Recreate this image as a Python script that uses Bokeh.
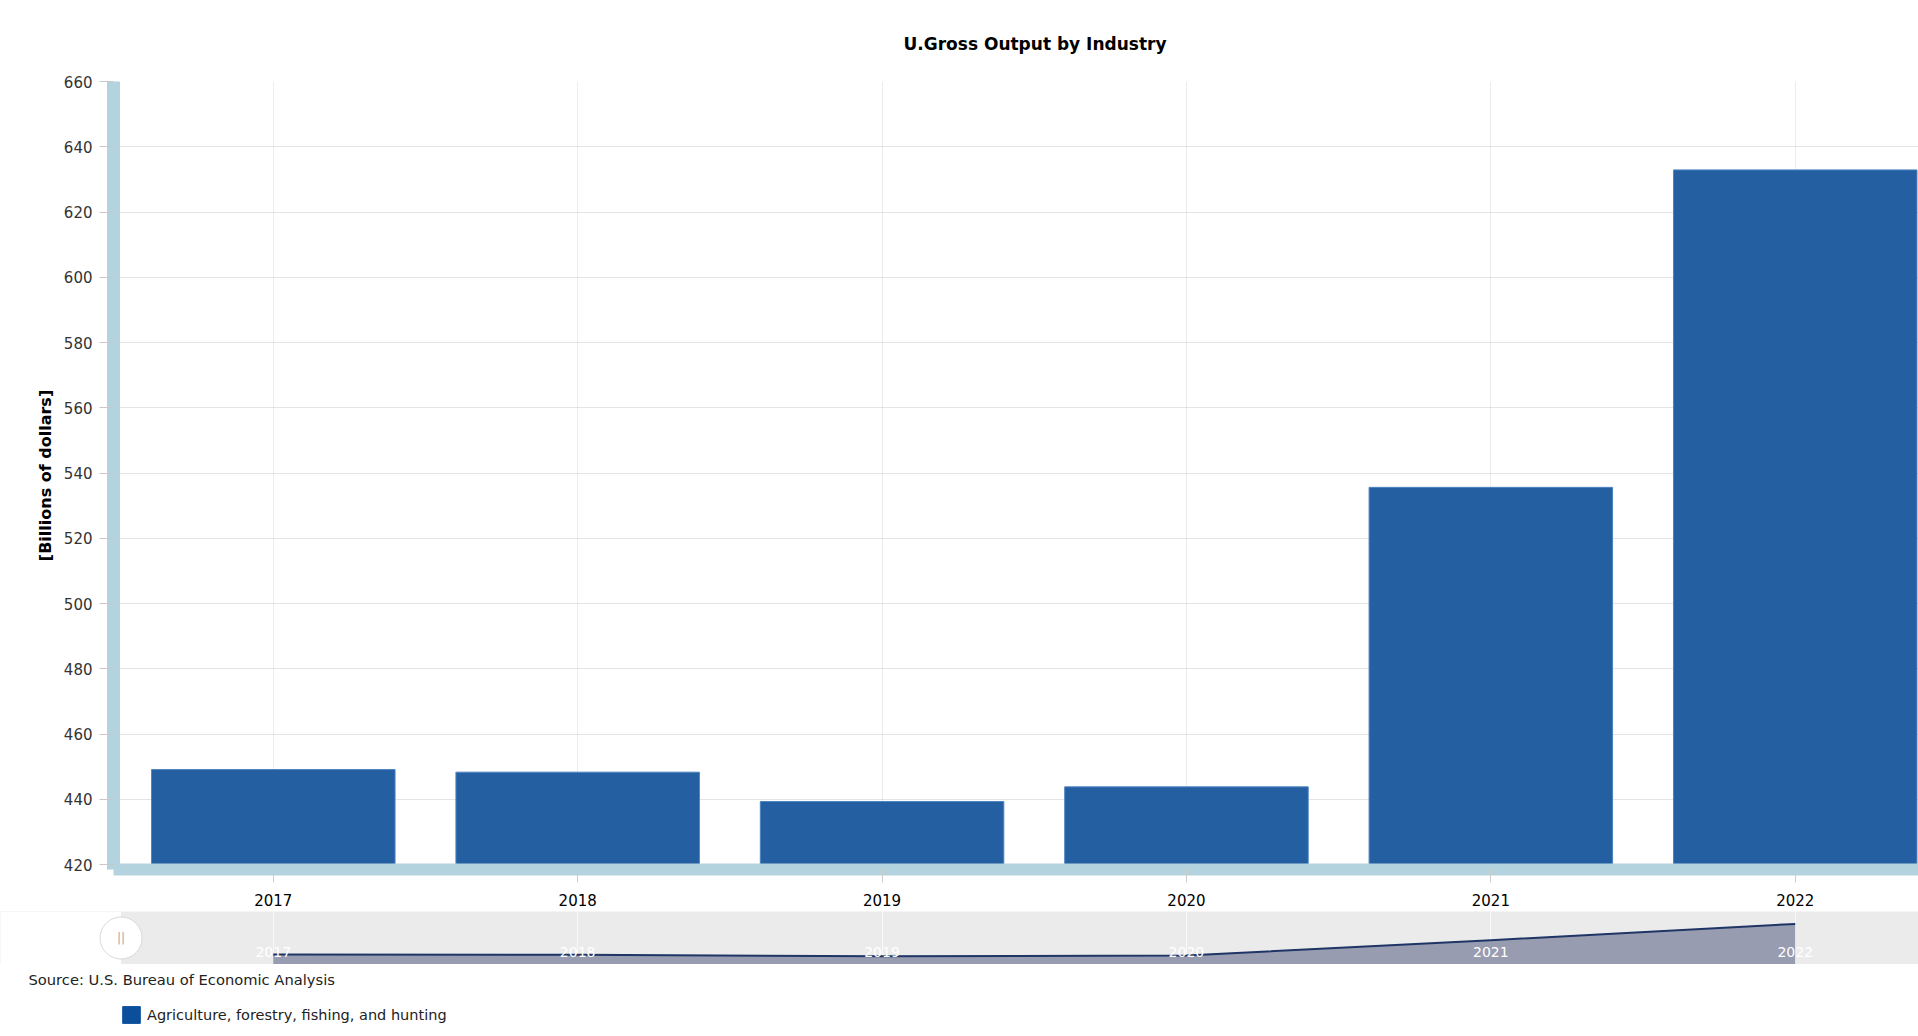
from bokeh.plotting import figure
from bokeh.models import Range1d, FixedTicker, Legend, LegendItem, BoxAnnotation
from bokeh.layouts import column
from bokeh.embed import file_html
from bokeh.resources import INLINE
from bokeh.core.properties import value

# ---------------- data ----------------
years = ["2017", "2018", "2019", "2020", "2021", "2022"]
gross_output = [449.1, 448.3, 439.3, 443.8, 535.6, 632.9]
y_ticks = [420, 440, 460, 480, 500, 520, 540, 560, 580, 600, 620, 640, 660]
series_name = "Agriculture, forestry, fishing, and hunting"
chart_title = "U.Gross Output by Industry"
y_title = "[Billions of dollars]"
source_note = "Source: U.S. Bureau of Economic Analysis"

idx = list(range(len(years)))
FONT = "DejaVu Sans"
BAR = "#235fa1"
AXIS_BAR = "#b3d3df"
W = 1918

# ---------------- main chart ----------------
p = figure(width=W, height=911,
           x_range=Range1d(-0.525, 5.405), y_range=Range1d(418.47, 660),
           output_backend="svg", toolbar_location=None,
           min_border_left=113, min_border_right=0,
           min_border_top=81, min_border_bottom=42)
p.frame_align = False
p.outline_line_color = None
p.background_fill_color = "white"
p.border_fill_color = "white"

p.title.text = chart_title
p.title.align = "left"
p.title.offset = 790
p.title.standoff = 56
p.title.text_font = FONT
p.title.text_font_size = "17px"
p.title.text_font_style = "bold"
p.title.text_color = "#000000"

p.vbar(x=idx, top=gross_output, bottom=y_ticks[0], width=0.8,
       fill_color=BAR, line_color="#4d84c2", line_width=1)

# y axis
p.yaxis.ticker = FixedTicker(ticks=y_ticks)
p.yaxis.axis_line_color = AXIS_BAR
p.yaxis.axis_line_width = 13
p.yaxis.major_tick_in = 0
p.yaxis.major_tick_out = 14
p.yaxis.major_tick_line_color = "#c8c8c8"
p.yaxis.minor_tick_line_color = None
p.yaxis.major_label_standoff = 7
p.yaxis.major_label_text_font = FONT
p.yaxis.major_label_text_font_size = "15px"
p.yaxis.major_label_text_color = "#333333"
p.yaxis.axis_label = y_title
p.yaxis.axis_label_text_font = FONT
p.yaxis.axis_label_text_font_size = "16px"
p.yaxis.axis_label_text_font_style = "bold"
p.yaxis.axis_label_text_color = "#000000"
p.yaxis.axis_label_standoff = 6

# x axis
p.xaxis.ticker = FixedTicker(ticks=idx)
p.xaxis.major_label_overrides = {i: y for i, y in zip(idx, years)}
p.xaxis.axis_line_color = AXIS_BAR
p.xaxis.axis_line_width = 12
p.xaxis.major_tick_in = 0
p.xaxis.major_tick_out = 13
p.xaxis.major_tick_line_color = "#cccccc"
p.xaxis.minor_tick_line_color = None
p.xaxis.major_label_standoff = 11
p.xaxis.major_label_text_font = FONT
p.xaxis.major_label_text_font_size = "15px"
p.xaxis.major_label_text_color = "#000000"

# grids
p.ygrid.grid_line_color = "#c8c8c8"
p.ygrid.grid_line_dash = "1 1"
p.xgrid.grid_line_color = "#ececec"

# ---------------- navigator ----------------
NAV_MIN, NAV_MAX = 390, 707
nav = figure(width=W, height=53,
             x_range=Range1d(-0.896, 5.405), y_range=Range1d(NAV_MIN, NAV_MAX),
             output_backend="svg", toolbar_location=None,
             x_axis_location=None, y_axis_location=None,
             min_border=0, min_border_left=0, min_border_right=0,
             min_border_top=0, min_border_bottom=0)
nav.frame_align = False
nav.outline_line_color = None
nav.background_fill_color = "#ebebeb"
nav.border_fill_color = "white"
nav.xgrid.ticker = FixedTicker(ticks=idx)
nav.xgrid.grid_line_color = "#f8f8f8"
nav.ygrid.grid_line_color = None

nav.add_layout(BoxAnnotation(right=idx[0] - 0.5, fill_color="white", fill_alpha=1,
                             line_color=None, level="underlay"))
nav.varea(x=idx, y1=NAV_MIN, y2=gross_output, fill_color="#979cb0")
nav.line(x=idx, y=gross_output, line_color="#1f3566", line_width=2)
nav.text(x=idx, y=[NAV_MIN] * len(idx), text=years, text_color="white",
         text_font=value(FONT), text_font_size="14px", text_align="center",
         text_baseline="bottom", y_offset=-8)

handle_x = idx[0] - 0.5
handle_y = (NAV_MIN + NAV_MAX) / 2
nav.scatter(x=[handle_x], y=[handle_y], size=42, marker="circle",
            fill_color="white", line_color="#d9d9d9", line_width=1)
nav.text(x=[handle_x], y=[handle_y], text=["||"], text_color="#aaaaaa",
         text_font=value(FONT), text_font_size="12px", text_align="center",
         text_baseline="middle")

# ---------------- footer (source + legend) ----------------
FH = 66
foot = figure(width=W, height=FH, x_range=Range1d(0, W), y_range=Range1d(FH, 0),
              output_backend="svg", toolbar_location=None,
              x_axis_location=None, y_axis_location=None,
              min_border=0, min_border_left=0, min_border_right=0,
              min_border_top=0, min_border_bottom=0)
foot.frame_align = False
foot.outline_line_color = None
foot.grid.visible = False
foot.text(x=[28], y=[15], text=[source_note], text_color="#222222",
          text_font=value(FONT), text_font_size="14.7px", text_align="left",
          text_baseline="middle")
# legend swatch renderer (kept outside the visible range; only its legend glyph shows)
swatch = foot.quad(left=[-40], right=[-30], top=[-40], bottom=[-30],
                   fill_color="#0b4f9c", line_color="#0b4f9c")
legend = Legend(items=[LegendItem(label=series_name, renderers=[swatch])],
                location=(120, 5), glyph_width=22, glyph_height=21,
                padding=0, margin=0, spacing=0, label_standoff=5,
                border_line_color=None, background_fill_alpha=0,
                label_text_font=FONT, label_text_font_size="14.5px",
                label_text_color="#222222", label_height=21)
foot.add_layout(legend)

layout = column(p, nav, foot)
open("out.html", "w").write(file_html(layout, INLINE))
